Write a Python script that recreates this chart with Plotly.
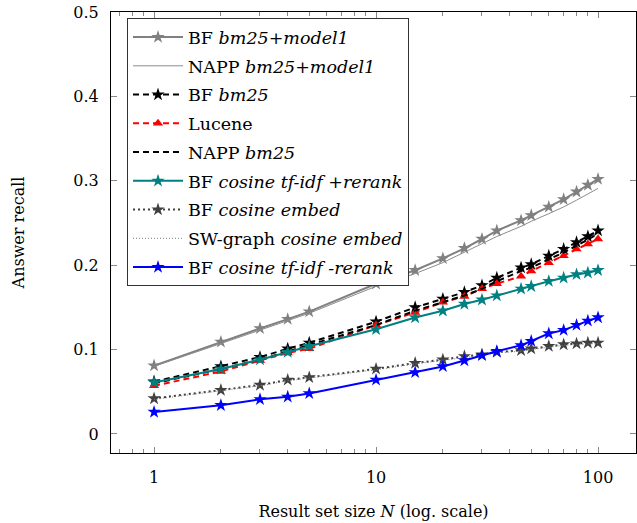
import plotly.graph_objects as go

N = [1, 2, 3, 4, 5, 10, 15, 20, 25, 30, 35, 45, 50, 60, 70, 80, 90, 100]

bf_model1 = [0.081, 0.109, 0.125, 0.136, 0.145, 0.178, 0.194, 0.208, 0.220, 0.231, 0.241, 0.253, 0.259, 0.269, 0.278, 0.287, 0.295, 0.302]
napp_model1 = [0.080, 0.107, 0.123, 0.134, 0.143, 0.175, 0.190, 0.203, 0.215, 0.225, 0.234, 0.246, 0.252, 0.261, 0.269, 0.277, 0.284, 0.291]
bf_bm25 = [0.062, 0.080, 0.091, 0.101, 0.108, 0.133, 0.150, 0.160, 0.168, 0.176, 0.185, 0.197, 0.201, 0.211, 0.219, 0.227, 0.234, 0.241]
lucene = [0.057, 0.074, 0.087, 0.096, 0.101, 0.129, 0.144, 0.156, 0.163, 0.172, 0.178, 0.187, 0.193, 0.203, 0.211, 0.219, 0.225, 0.231]
napp_bm25 = [0.060, 0.077, 0.088, 0.098, 0.105, 0.129, 0.146, 0.156, 0.164, 0.172, 0.181, 0.193, 0.197, 0.207, 0.215, 0.223, 0.230, 0.237]
bf_tfidf_rerank = [0.061, 0.077, 0.088, 0.097, 0.104, 0.124, 0.138, 0.146, 0.154, 0.159, 0.164, 0.172, 0.175, 0.181, 0.185, 0.189, 0.191, 0.194]
bf_embed = [0.042, 0.052, 0.058, 0.064, 0.067, 0.077, 0.084, 0.088, 0.092, 0.094, 0.097, 0.099, 0.101, 0.104, 0.106, 0.107, 0.108, 0.108]
sw_embed = [0.041, 0.051, 0.057, 0.063, 0.066, 0.076, 0.083, 0.087, 0.091, 0.093, 0.096, 0.098, 0.100, 0.103, 0.105, 0.106, 0.107, 0.107]
bf_tfidf_norerank = [0.026, 0.034, 0.041, 0.044, 0.048, 0.064, 0.073, 0.080, 0.087, 0.093, 0.098, 0.105, 0.110, 0.119, 0.123, 0.129, 0.134, 0.138]

y_ticks = [0, 0.1, 0.2, 0.3, 0.4, 0.5]
x_ticks = [1, 10, 100]

FONT = "DejaVu Serif"

series = [
    ("BF <i>bm25+model1</i>", bf_model1, dict(color="#808080", width=2), dict(symbol="star", size=10, color="#808080"), "lines+markers"),
    ("NAPP <i>bm25+model1</i>", napp_model1, dict(color="#8c8c8c", width=1), None, "lines"),
    ("BF <i>bm25</i>", bf_bm25, dict(color="black", width=2, dash="6px,4px"), dict(symbol="star", size=10, color="black"), "lines+markers"),
    ("Lucene", lucene, dict(color="red", width=2, dash="6px,4px"), dict(symbol="triangle-up", size=9, color="red"), "lines+markers"),
    ("NAPP <i>bm25</i>", napp_bm25, dict(color="black", width=2, dash="6px,4px"), None, "lines"),
    ("BF <i>cosine tf-idf +rerank</i>", bf_tfidf_rerank, dict(color="#008080", width=2), dict(symbol="star", size=10, color="#008080"), "lines+markers"),
    ("BF <i>cosine embed</i>", bf_embed, dict(color="#404040", width=2, dash="2px,3px"), dict(symbol="star", size=10, color="#404040"), "lines+markers"),
    ("SW-graph <i>cosine embed</i>", sw_embed, dict(color="#7a7a7a", width=1, dash="1px,2px"), None, "lines"),
    ("BF <i>cosine tf-idf -rerank</i>", bf_tfidf_norerank, dict(color="#0000ff", width=2), dict(symbol="star", size=10, color="#0000ff"), "lines+markers"),
]

fig = go.Figure()
for i, (name, ys, line, marker, mode) in enumerate(series):
    kw = dict(x=N, y=ys, name=name, mode=mode, line=line, legendgroup=f"g{i}")
    if marker is not None:
        kw["marker"] = dict(symbol=marker["symbol"], size=marker["size"], color=marker["color"],
                            line=dict(width=0))
    fig.add_trace(go.Scatter(**kw))

fig.update_layout(
    width=637, height=523,
    margin=dict(l=111, r=1, t=12, b=70, autoexpand=False),
    paper_bgcolor="white", plot_bgcolor="white",
    font=dict(family=FONT, size=16, color="black"),
    showlegend=True,
    legend=dict(
        x=0.0305, y=0.986, xanchor="left", yanchor="top",
        bgcolor="white", bordercolor="#333333", borderwidth=1,
        font=dict(family=FONT, size=17.5, color="black"),
        tracegroupgap=3, itemwidth=50, traceorder="grouped",
    ),
)

fig.update_xaxes(
    type="log", range=[-0.194, 2.171],
    tickvals=x_ticks, ticktext=[str(v) for v in x_ticks],
    ticks="inside", ticklen=6, tickcolor="#888888", tickwidth=1,
    showline=True, linecolor="black", linewidth=1, mirror="allticks",
    showgrid=False, zeroline=False,
    minor=dict(ticks="inside", ticklen=4, tickcolor="#888888", dtick="D1", showgrid=False),
    ticklabelstandoff=10,
    title=dict(text="Result set size <i>N</i> (log. scale)", standoff=19, font=dict(family=FONT, size=16)),
    automargin=False,
)
fig.update_yaxes(
    range=[-0.0226, 0.5],
    tickvals=y_ticks, ticktext=["0", "0.1", "0.2", "0.3", "0.4", "0.5"],
    ticks="inside", ticklen=6, tickcolor="#888888", tickwidth=1,
    showline=True, linecolor="black", linewidth=1, mirror="allticks",
    showgrid=False, zeroline=False,
    ticklabelstandoff=8,
    title=dict(text="Answer recall", standoff=44, font=dict(family=FONT, size=16)),
    automargin=False,
)

fig.write_html("out.html", post_script="document.body.style.margin='0';",
               config={"displayModeBar": False})
